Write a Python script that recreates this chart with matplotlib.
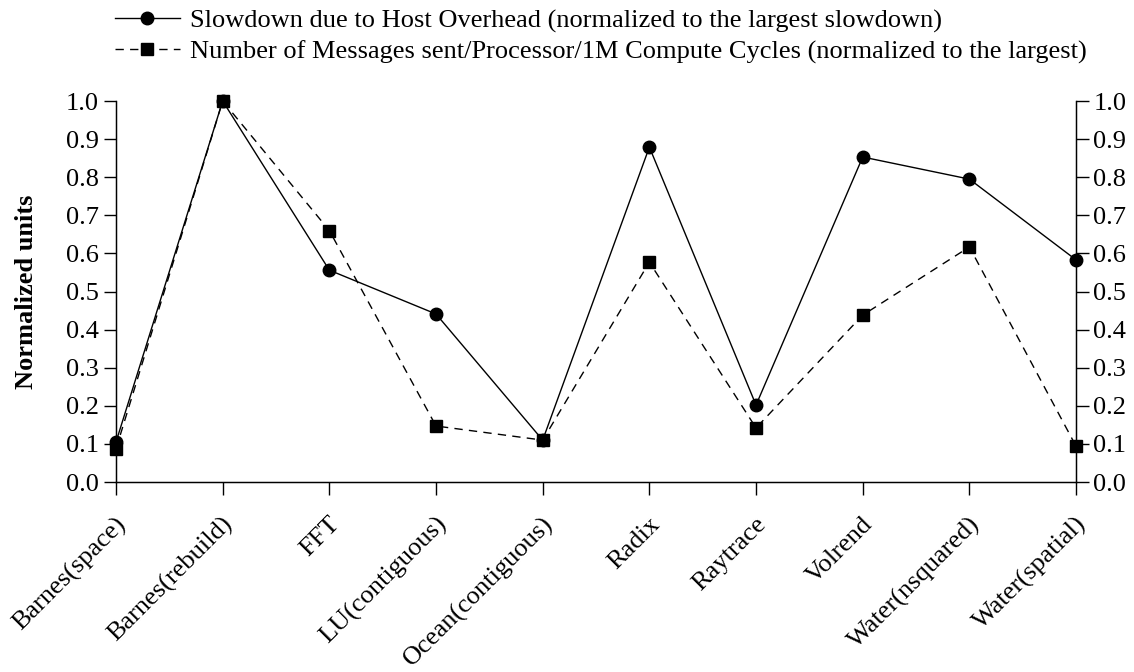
import numpy as np
from matplotlib import pyplot as plt
from matplotlib.transforms import ScaledTranslation

plt.rcParams['font.family'] = ['Liberation Serif', 'DejaVu Serif']

categories = ["Barnes(space)", "Barnes(rebuild)", "FFT", "LU(contiguous)",
              "Ocean(contiguous)", "Radix", "Raytrace", "Volrend",
              "Water(nsquared)", "Water(spatial)"]
slowdown = [0.105, 1.0, 0.556, 0.441, 0.110, 0.879, 0.202, 0.853, 0.795, 0.583]
messages = [0.087, 1.0, 0.660, 0.147, 0.110, 0.577, 0.142, 0.438, 0.617, 0.094]
yticks = [0.0, 0.1, 0.2, 0.3, 0.4, 0.5, 0.6, 0.7, 0.8, 0.9, 1.0]

label_slow = "Slowdown due to Host Overhead (normalized to the largest slowdown)"
label_msg = "Number of Messages sent/Processor/1M Compute Cycles (normalized to the largest)"

fs = 19

fig = plt.figure(figsize=(11.34, 6.72), dpi=100)
ax = fig.add_axes([0.1023, 0.2827, 0.8466, 0.567])

x = np.arange(len(categories))
l1, = ax.plot(x, slowdown, color='black', lw=1.0, marker='o', markersize=9,
              clip_on=False, zorder=3)
l2, = ax.plot(x, messages, color='black', lw=1.0, marker='s', markersize=8,
              linestyle=(0, (6, 4.5)), clip_on=False, zorder=3)

ax.set_xlim(0, len(categories) - 1)
ax.set_ylim(0, 1.0)
ax.set_xticks(x)
ax.set_xticklabels(categories, rotation=45, ha='right', va='center',
                   rotation_mode='anchor', fontsize=fs)
ax.set_yticks(yticks)
ax.set_yticklabels(["%.1f" % v for v in yticks], fontsize=fs)
ax.set_ylabel("Normalized units", fontsize=fs, fontweight='bold')
ax.yaxis.set_label_coords(-0.081, 0.5)

ax.spines['top'].set_visible(False)
for s in ['left', 'right', 'bottom']:
    ax.spines[s].set_linewidth(1.0)
ax.tick_params(axis='both', direction='out', length=9, width=1.0)
ax.tick_params(axis='x', pad=19)

ax2 = ax.twinx()
ax2.set_ylim(0, 1.0)
ax2.set_yticks(yticks)
ax2.set_yticklabels(["%.1f" % v for v in yticks], fontsize=fs)
ax2.spines['top'].set_visible(False)
ax2.tick_params(axis='y', direction='out', length=9, width=1.0)

# nudge the rotated labels a little to the right (after tick_params, which resets them)
shift = ScaledTranslation(5 / 72, 0, fig.dpi_scale_trans)
for lab in ax.get_xticklabels():
    lab.set_transform(lab.get_transform() + shift)

fig.legend([l1, l2], [label_slow, label_msg], loc='upper left',
           bbox_to_anchor=(0.1014, 0.987), frameon=False, fontsize=fs,
           handlelength=2.46, labelspacing=0.28, handletextpad=0.38,
           borderpad=0, borderaxespad=0)

fig.savefig("out.png", dpi=100)
